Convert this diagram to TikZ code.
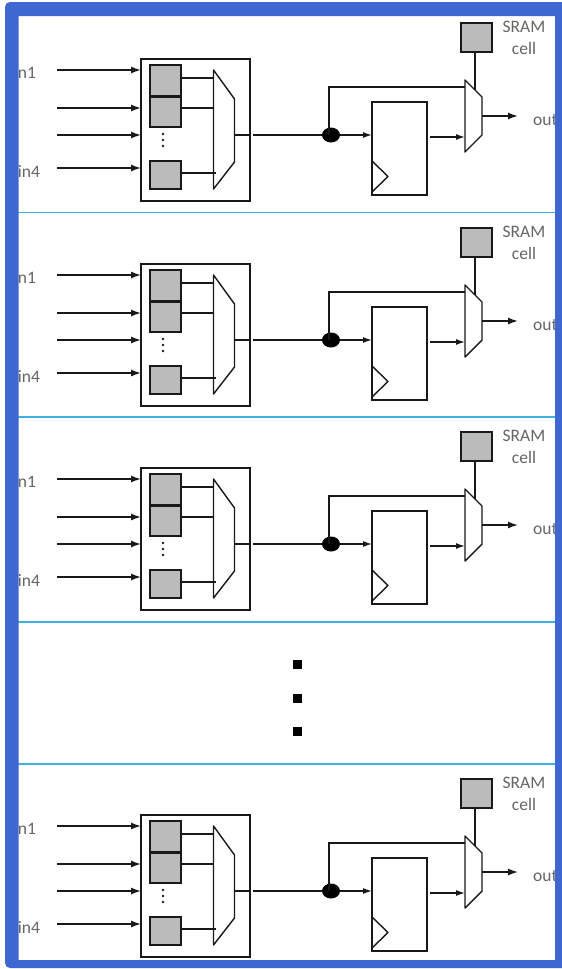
\documentclass[tikz,border=0pt]{standalone}
\usepackage{fontspec}
\setmainfont{Carlito}
\usetikzlibrary{arrows.meta,shapes.geometric}
\definecolor{framecol}{HTML}{3F67D2}
\definecolor{sepcol}{HTML}{3FB0E2}
\definecolor{cellcol}{HTML}{BBBBBB}
\definecolor{textcol}{HTML}{666666}
\tikzset{
  wire/.style={line width=1.4pt,black!90},
  sig/.style={wire,-{Latex[length=10pt,width=7pt]}},
  sigs/.style={wire,-{Latex[length=9pt,width=6pt]}},
  outline/.style={draw=black!90,line width=1.4pt,fill=white},
  block/.style={outline,rectangle,inner sep=0pt,outer sep=0pt,anchor=north west},
  cell/.style={block,fill=cellcol,line width=1.5pt},
  lab/.style={text=textcol,font=\fontsize{17.5}{17.5}\selectfont,inner sep=0pt},
  sepline/.style={draw=sepcol,line width=1.4pt},
  bigdot/.style={rectangle,fill=black,minimum size=9pt,inner sep=0pt},
  joint/.style={ellipse,fill=black,minimum width=18pt,minimum height=15pt,inner sep=0pt}
}
\begin{document}
\begin{tikzpicture}[x=1pt,y=-1pt]
\useasboundingbox (0,0) rectangle (562,969);
\fill[white] (0,0) rectangle (562,969);
\foreach \t/\o in {a/0,b/205,c/409,e/756}{
\begin{scope}[shift={(0,\o)}]
  % labels
  \node[lab,anchor=base] (in1\t) at (25,78) {in1};
  \node[lab,anchor=base] (in4\t) at (29,177) {in4};
  \node[lab,anchor=base west] (out\t) at (533,125) {out};
  \node[lab,anchor=base] (sramlab\t) at (524,32) {SRAM};
  \node[lab,anchor=base] (celllab\t) at (524,54) {cell};
  % LUT box
  \node[block,minimum width=109pt,minimum height=142pt] (box\t) at (141,59) {};
  \node[cell,minimum width=31pt,minimum height=31pt] (c1\t) at (150,65) {};
  \node[cell,minimum width=31pt,minimum height=30pt] (c2\t) at (150,97) {};
  \node[cell,minimum width=31pt,minimum height=28pt] (c4\t) at (150,161) {};
  \foreach \d in {134,140,146}{\fill[black!90] (163,\d) circle (1.3pt);}
  % inputs
  \coordinate (i1\t) at (57,70);  \coordinate (j1\t) at (141,70);
  \coordinate (i2\t) at (57,108); \coordinate (j2\t) at (141,108);
  \coordinate (i3\t) at (57,135); \coordinate (j3\t) at (141,135);
  \coordinate (i4\t) at (57,168); \coordinate (j4\t) at (141,168);
  \draw[sig] (i1\t) -- (j1\t);
  \draw[sig] (i2\t) -- (j2\t);
  \draw[sig] (i3\t) -- (j3\t);
  \draw[sig] (i4\t) -- (j4\t);
  % first mux
  \draw[outline,fill=none,line join=round] (213.5,70) coordinate (m1a\t) -- (234.5,99) -- (234.5,162) -- (213.5,189) -- cycle;
  \coordinate (m1o\t) at (234.5,135);
  \draw[wire] (c1\t.east |- 0,78) -- (213.5,78);
  \draw[wire] (c2\t.east |- 0,108) -- (213.5,108);
  \draw[wire] (c4\t.east |- 0,173) -- (216,173);
  \draw[wire] (m1o\t) -- (box\t.east |- m1o\t);
  % junction and flip-flop
  \node[joint] (dot\t) at (331,135) {};
  \node[block,minimum width=55pt,minimum height=93pt] (ff\t) at (372,102) {};
  \draw[outline,fill=none,line join=round] (372,161) -- (388,176.5) -- (372,192);
  \coordinate (boxout\t) at (253,135);
  \draw[wire] (boxout\t) -- (dot\t);
  \draw[sigs] (dot\t) -- (ff\t.west |- dot\t);
  % second mux
  \draw[outline,fill=none,line join=round] (465,80) -- (482,97) -- (482,135) -- (465,152) -- cycle;
  \coordinate (m2a\t) at (465,87);
  \coordinate (m2b\t) at (465,137);
  \coordinate (m2o\t) at (482,116);
  \coordinate (m2s\t) at (475,90);
  \coordinate (ffo\t) at (430,137);
  \coordinate (outend\t) at (518,116);
  \draw[wire] (dot\t.center -| 329,135) -- (329,87) -- (m2a\t);
  \draw[sigs] (ffo\t) -- (m2b\t);
  \draw[sig] (m2o\t) -- (outend\t);
  % SRAM
  \node[cell,minimum width=31pt,minimum height=29pt] (sram\t) at (461,23) {};
  \draw[wire] (sram\t.south -| m2s\t) -- (m2s\t);
\end{scope}
}
% separators
\draw[sepline] (18,212.5) -- (556,212.5);
\draw[sepline] (18,417) -- (556,417);
\draw[sepline] (18,622) -- (556,622);
\draw[sepline] (18,764) -- (556,764);
% ellipsis squares
\node[bigdot] (s1) at (297,664) {};
\node[bigdot] (s2) at (297,698) {};
\node[bigdot] (s3) at (297,731) {};
% frame on top (hides the ends of the clipped labels)
\fill[framecol,even odd rule,rounded corners=5pt] (5,2) rectangle (575,968) [sharp corners] (18.5,16) rectangle (555,960);
\end{tikzpicture}
\end{document}
